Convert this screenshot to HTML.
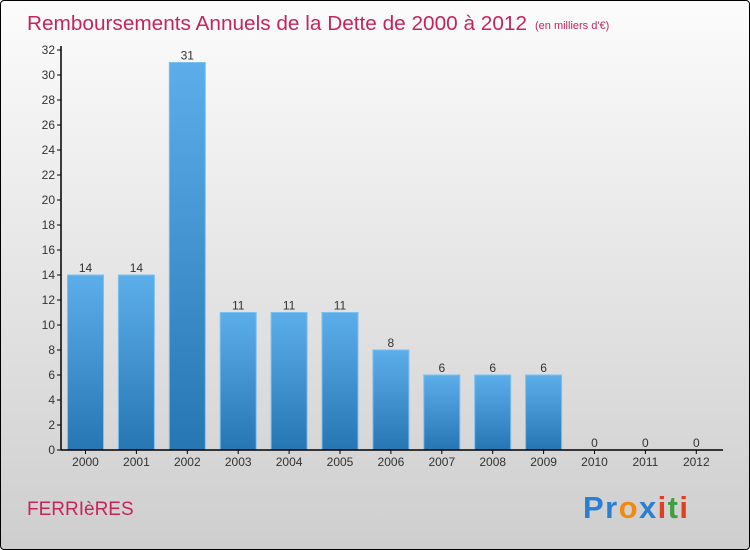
<!DOCTYPE html>
<html><head><meta charset="utf-8"><style>
body{margin:0}
#wrap{position:relative;width:748px;height:548px;border:1px solid #000;border-radius:4px;background:linear-gradient(#fcfcfc,#cecece);overflow:hidden;font-family:"Liberation Sans",sans-serif}
</style></head><body>
<div id="wrap">
<svg id="chart" width="748" height="548">
<defs><linearGradient id="bg" x1="0" y1="0" x2="0" y2="1"><stop offset="0" stop-color="#5caeea"/><stop offset="1" stop-color="#2776b4"/></linearGradient></defs>
<text x="26" y="29" font-size="20" fill="#c8245c" textLength="500" lengthAdjust="spacingAndGlyphs">Remboursements Annuels de la Dette de 2000 à 2012</text>
<text x="534" y="28" font-size="11" fill="#c8245c">(en milliers d'€)</text>
<text x="26" y="514" font-size="19" fill="#c8245c">FERRIèRES</text>
<text x="582" y="517" font-size="31" font-weight="bold" textLength="105"><tspan fill="#2a7fd0">Pr</tspan><tspan fill="#f08a10">o</tspan><tspan fill="#2a7fd0">x</tspan><tspan fill="#e04020">i</tspan><tspan fill="#40a040">t</tspan><tspan fill="#e04020">i</tspan></text>
<g id="plot"></g>
</svg>
</div>
<script>
const years=["2000","2001","2002","2003","2004","2005","2006","2007","2008","2009","2010","2011","2012"];
const values=[14,14,31,11,11,11,8,6,6,6,0,0,0];
const yTicks=[0,2,4,6,8,10,12,14,16,18,20,22,24,26,28,30,32];
const ns="http://www.w3.org/2000/svg";
const g=document.getElementById('plot');
const y0=449,x0=60,yMax=32,ph=400;
const y=v=>y0-v/yMax*ph;
const xc=i=>84.5+i*50.9;
function mk(t,a){const e=document.createElementNS(ns,t);for(const k in a)e.setAttribute(k,a[k]);g.appendChild(e);return e;}
yTicks.forEach(t=>{
 const l=mk('line',{x1:x0-4,x2:x0,y1:y(t),y2:y(t),stroke:'#000'});
 
 
 const tx=mk('text',{x:x0-6,y:y(t)+4,'font-size':12,fill:'#333','text-anchor':'end'});
 tx.textContent=t;
 
 
});
values.forEach((v,i)=>{
 const cx=xc(i);
 if(v>0){
  const r=mk('rect',{x:cx-18,y:y(v),width:36,height:y0-y(v),fill:'url(#bg)',stroke:'#7cc0f0','stroke-width':1});
  
  
 }
 const vl=mk('text',{x:cx,y:y(v)-3,'font-size':12,fill:'#333','text-anchor':'middle'});
 vl.textContent=v;
 
 
 const tk=mk('line',{x1:cx,x2:cx,y1:y0,y2:y0+4,stroke:'#000'});
 
 
 const xl=mk('text',{x:cx,y:y0+16,'font-size':12,fill:'#333','text-anchor':'middle'});
 xl.textContent=years[i];
 
 
});
const ya=mk('line',{x1:x0,x2:x0,y1:y(32)-4,y2:y0,stroke:'#000','stroke-width':1.5});


const xa=mk('line',{x1:x0,x2:722,y1:y0,y2:y0,stroke:'#000','stroke-width':1.5});


</script>
</body></html>
